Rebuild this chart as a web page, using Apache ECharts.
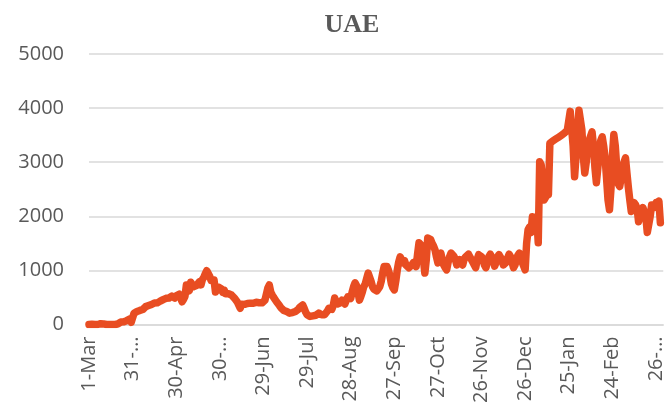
<!DOCTYPE html>
<html>
<head>
<meta charset="utf-8">
<script src="https://cdn.jsdelivr.net/npm/echarts@6/dist/echarts.min.js"></script>
<style>
html,body{margin:0;padding:0;background:#fff;}
#chart{width:666px;height:409px;}
</style>
</head>
<body>
<div id="chart"></div>
<script>
// Daily new cases, UAE, starting 1-Mar-2020
var mar20 = [0,0,6,6,0,2,0,0,15,0,11,0,0,0,0,12,0,15,0,27,13,45,45,50,50,85,72,63,102,41,53];
var apr20 = [210,240,241,241,260,283,277,300,331,340,350,360,370,380,398,412,400,420,432,445,460,477,484,483,490,518,525,536,490,532];
var may20 = [545,560,540,420,462,520,730,700,624,781,783,698,700,725,760,790,731,832,873,941,994,960,892,812,779,822,600,625,690,661,661];
var jun20 = [596,635,569,596,568,540,545,528,488,460,416,427,300,375,386,372,388,388,393,395,398,393,400,410,390,402,415,400,420,448];
var jul20 = [480,672,730,600,545,500,470,420,400,350,310,290,260,230,240,220,210,230,220,210,240,260,280,320,350,360,300,230,180,160,150];
var aug20 = [180,160,150,170,200,210,190,180,200,180,200,250,300,320,280,350,490,420,380,360,400,450,420,380,450,510,500,480,600,700,770];
var sep20 = [720,600,450,520,600,700,750,850,950,930,800,700,650,640,620,650,700,800,950,1070,1060,1070,1000,900,750,680,640,800,1000,1150];
var oct20 = [1250,1200,1140,1180,1100,1080,1050,1070,1100,1140,1120,1070,1300,1510,1480,1450,1200,950,1200,1600,1580,1570,1500,1450,1380,1250,1140,1250,1320,1200,1100];
var nov20 = [1050,1010,1150,1250,1320,1300,1260,1200,1100,1150,1200,1180,1100,1200,1250,1280,1300,1270,1200,1150,1100,1050,1200,1290,1300,1250,1200,1100,1050,1150];
var dec20 = [1250,1300,1280,1200,1080,1150,1250,1290,1260,1200,1100,1070,1150,1230,1300,1250,1150,1050,1100,1200,1280,1320,1250,1150,1080,1010,1500,1750,1800,1700,1990];
var jan21 = [1900,1800,1990,1510,3010,2950,2700,2300,2350,2450,2400,3350,3370,3390,3410,3430,3450,3460,3480,3500,3520,3540,3560,3590,3620,3940,3950,3300,2730,2760,3500];
var feb21 = [3960,3977,3600,3100,2800,3000,3300,3400,3400,3560,3300,2900,2620,2900,3200,3400,3470,3300,3080,2700,2300,2120,2500,3100,3510,3300,2900,2600];
var mar21 = [2550,2700,2900,3000,3080,2800,2530,2300,2090,2200,2250,2210,2150,1900,2000,2100,2160,2180,2000,1700,1710,2000,2210,2150,2200,2250,2200,2280,1880];

var tickLabels = ["1-Mar","31-\u2026","30-Apr","30-\u2026","29-Jun","29-Jul","28-Aug","27-Sep","27-Oct","26-Nov","26-Dec","25-Jan","24-Feb","26-\u2026"];
var yTicks = [0,1000,2000,3000,4000,5000];
var titleText = "UAE";

var values = [].concat(mar20,apr20,may20,jun20,jul20,aug20,sep20,oct20,nov20,dec20,jan21,feb21,mar21);
var months = ["Jan","Feb","Mar","Apr","May","Jun","Jul","Aug","Sep","Oct","Nov","Dec"];
var nCats = 396;
var categories = [];
var start = new Date(Date.UTC(2020,2,1));
for (var i = 0; i < nCats; i++) {
  var d = new Date(start.getTime() + i*86400000);
  categories.push(d.getUTCDate() + "-" + months[d.getUTCMonth()]);
}
var seriesData = categories.map(function(c, i){ return i < values.length ? values[i] : null; });

var chart = echarts.init(document.getElementById('chart'), null, {renderer:'canvas'});
chart.setOption({
  animation: false,
  backgroundColor: '#ffffff',
  title: {
    text: titleText,
    left: 347,
    top: 7,
    textAlign: 'center',
    textStyle: {fontFamily: 'Liberation Serif', fontWeight: 'bold', fontSize: 26, color: '#595959'}
  },
  grid: {left: 89, right: 0, top: 54, bottom: 84.5, containLabel: false},
  xAxis: {
    type: 'category',
    data: categories,
    boundaryGap: false,
    axisLine: {show: true, lineStyle: {color: '#d9d9d9', width: 1.5}},
    axisTick: {show: false},
    splitLine: {show: false},
    axisLabel: {
      interval: 29,
      rotate: 90,
      margin: 12,
      fontFamily: 'Open Sans',
      fontSize: 20,
      color: '#595959',
      formatter: function(v, idx){ return tickLabels[Math.round(idx/30)] || v; }
    }
  },
  yAxis: {
    type: 'value',
    min: yTicks[0],
    max: yTicks[yTicks.length-1],
    interval: 1000,
    axisLine: {show: false},
    axisTick: {show: false},
    splitLine: {lineStyle: {color: '#d9d9d9', width: 1.5}},
    axisLabel: {
      margin: 25, fontFamily: 'Open Sans', fontSize: 20, color: '#595959',
      formatter: function(v){ return String(v); }
    }
  },
  series: [{
    type: 'line',
    data: seriesData,
    showSymbol: false,
    connectNulls: false,
    lineStyle: {color: '#E84D22', width: 7.5, cap: 'round', join: 'round'},
    itemStyle: {color: '#E84D22'}
  }]
});
</script>
</body>
</html>
